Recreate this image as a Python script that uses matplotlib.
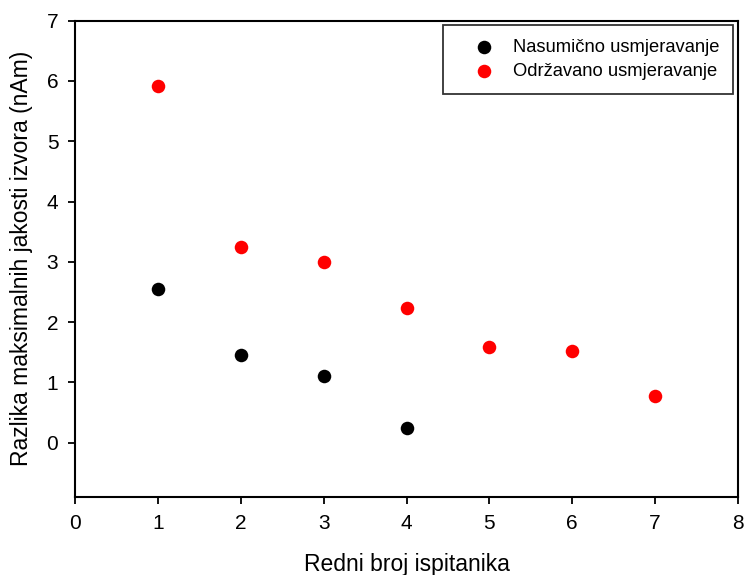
import matplotlib
matplotlib.use("Agg")
import matplotlib.pyplot as plt

plt.rcParams['font.family'] = ['Liberation Sans', 'DejaVu Sans']

x_nasumicno = [1, 2, 3, 4]
y_nasumicno = [2.55, 1.45, 1.10, 0.25]
x_odrzavano = [1, 2, 3, 4, 5, 6, 7]
y_odrzavano = [5.92, 3.25, 3.00, 2.23, 1.58, 1.52, 0.77]

xticks = [0, 1, 2, 3, 4, 5, 6, 7, 8]
yticks = [0, 1, 2, 3, 4, 5, 6, 7]

fig = plt.figure(figsize=(7.45, 5.75), dpi=100)
ax = fig.add_axes([75/745, 78/575, (738-75)/745, (497-20.7)/575])

ax.scatter(x_nasumicno, y_nasumicno, s=95, color='black', label='Nasumično usmjeravanje', zorder=3, linewidths=0)
ax.scatter(x_odrzavano, y_odrzavano, s=95, color='#ff0000', label='Održavano usmjeravanje', zorder=3, linewidths=0)

ax.set_xlim(0, 8)
ax.set_ylim(-0.9, 7)
ax.set_xticks(xticks)
ax.set_yticks(yticks)
ax.tick_params(direction='out', length=5, width=1.3, labelsize=15, top=False, right=False, pad=7)
for sp in ax.spines.values():
    sp.set_linewidth(1.5)

ax.set_xlabel('Redni broj ispitanika', fontsize=16.5, labelpad=15)
ax.set_ylabel('Razlika maksimalnih jakosti izvora (nAm)', fontsize=16.5, labelpad=10)

leg = ax.legend(loc='upper right', fontsize=13.2, frameon=True, fancybox=False,
                borderpad=0.75, handletextpad=0.15, borderaxespad=0.25, labelspacing=0.38,
                edgecolor='black', markerscale=1.0, handlelength=2.9)
leg.get_frame().set_linewidth(1.3)

fig.savefig('out.png', dpi=100)
